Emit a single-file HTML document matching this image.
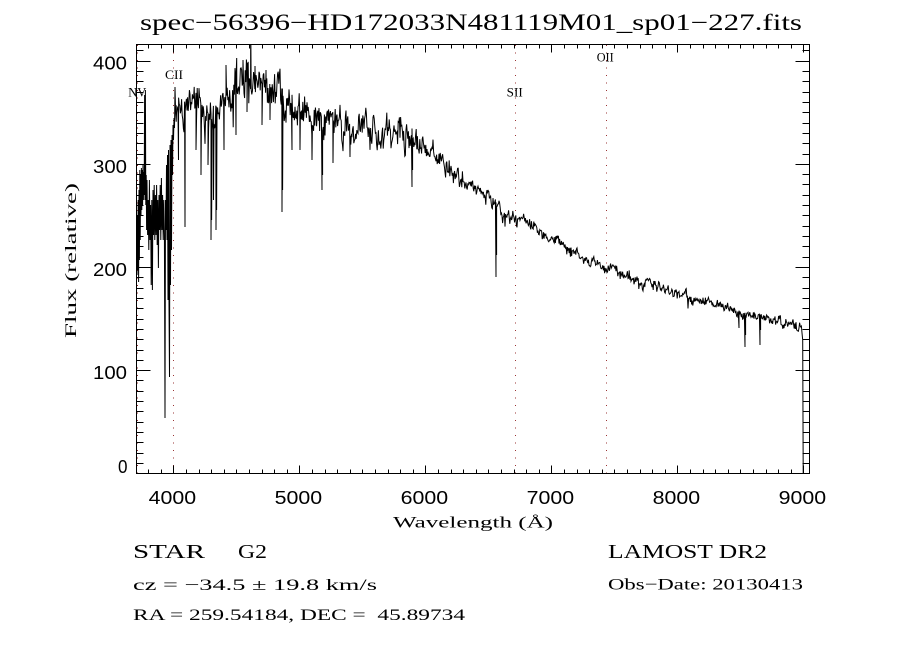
<!DOCTYPE html>
<html><head><meta charset="utf-8"><style>
html,body{margin:0;padding:0;background:#fff;}
svg{display:block;}
text{fill:#000;}
.serif{font-family:"Liberation Serif",serif;}
.sans{font-family:"Liberation Sans",sans-serif;}
</style></head><body>
<svg id="s" width="900" height="650" viewBox="0 0 900 650" xmlns="http://www.w3.org/2000/svg">
<rect width="900" height="650" fill="#fff"/>
<defs><clipPath id="c"><rect x="136" y="44" width="674" height="430"/></clipPath></defs>
<g stroke="#993333" stroke-width="1" stroke-dasharray="1 6.5">
<line x1="137.5" y1="45" x2="137.5" y2="473"/>
<line x1="173.5" y1="45" x2="173.5" y2="473"/>
<line x1="515.5" y1="45" x2="515.5" y2="473"/>
<line x1="606.5" y1="45" x2="606.5" y2="473"/>
</g>
<path id="spec" clip-path="url(#c)" fill="none" stroke="#000" stroke-width="1"/>
<g id="ticks" stroke="#000" stroke-width="1" shape-rendering="crispEdges"></g>
<rect x="136.5" y="44.5" width="673" height="429" fill="none" stroke="#000" stroke-width="1" shape-rendering="crispEdges"/>

<text class="serif" x="140" y="30" font-size="23" textLength="662" lengthAdjust="spacingAndGlyphs">spec−56396−HD172033N481119M01_sp01−227.fits</text>

<text class="serif" x="128.3" y="96.7" font-size="12.5" textLength="18" lengthAdjust="spacingAndGlyphs">NV</text>
<text class="serif" x="165" y="79" font-size="12.5" textLength="18" lengthAdjust="spacingAndGlyphs">CII</text>
<text class="serif" x="506.7" y="96.7" font-size="12.5" textLength="16" lengthAdjust="spacingAndGlyphs">SII</text>
<text class="serif" x="596.7" y="61.7" font-size="12.5" textLength="17" lengthAdjust="spacingAndGlyphs">OII</text>

<g class="sans" font-size="18.5">
<text x="93" y="69.6" textLength="34" lengthAdjust="spacingAndGlyphs">400</text>
<text x="93" y="172.9" textLength="34" lengthAdjust="spacingAndGlyphs">300</text>
<text x="93" y="276" textLength="34" lengthAdjust="spacingAndGlyphs">200</text>
<text x="93" y="379" textLength="34" lengthAdjust="spacingAndGlyphs">100</text>
<text x="118" y="473" textLength="9.5" lengthAdjust="spacingAndGlyphs">0</text>
<text x="148.7" y="504" textLength="47.5" lengthAdjust="spacingAndGlyphs">4000</text>
<text x="274.7" y="504" textLength="47.5" lengthAdjust="spacingAndGlyphs">5000</text>
<text x="400.7" y="504" textLength="47.5" lengthAdjust="spacingAndGlyphs">6000</text>
<text x="526.7" y="504" textLength="47.5" lengthAdjust="spacingAndGlyphs">7000</text>
<text x="652.7" y="504" textLength="47.5" lengthAdjust="spacingAndGlyphs">8000</text>
<text x="778.7" y="504" textLength="47.5" lengthAdjust="spacingAndGlyphs">9000</text>
</g>

<text class="serif" x="393" y="527.5" font-size="16" textLength="160" lengthAdjust="spacingAndGlyphs">Wavelength (Å)</text>
<text class="serif" transform="translate(76,338) rotate(-90)" x="0" y="0" font-size="16" textLength="155" lengthAdjust="spacingAndGlyphs">Flux (relative)</text>

<text class="serif" x="133" y="558" font-size="20" textLength="72" lengthAdjust="spacingAndGlyphs">STAR</text>
<text class="serif" x="238" y="558" font-size="20" textLength="29" lengthAdjust="spacingAndGlyphs">G2</text>
<text class="serif" x="608" y="558" font-size="20" textLength="159" lengthAdjust="spacingAndGlyphs">LAMOST DR2</text>
<text class="serif" x="133" y="590" font-size="16" textLength="244" lengthAdjust="spacingAndGlyphs">cz = −34.5 ± 19.8 km/s</text>
<text class="serif" x="608" y="589.5" font-size="16" textLength="195" lengthAdjust="spacingAndGlyphs">Obs−Date: 20130413</text>
<text class="serif" x="133" y="620" font-size="16" textLength="332" lengthAdjust="spacingAndGlyphs" style="white-space:pre">RA = 259.54184, DEC =  45.89734</text>
</svg>
<script>
(function(){
const NS="http://www.w3.org/2000/svg";
function mulberry32(a){return function(){a|=0;a=a+0x6D2B79F5|0;let t=Math.imul(a^a>>>15,1|a);t=t+Math.imul(t^t>>>7,61|t)^t;return((t^t>>>14)>>>0)/4294967296;}}
const R=mulberry32(11);
const g=document.getElementById('ticks');
function ln(x1,y1,x2,y2){const l=document.createElementNS(NS,'line');l.setAttribute('x1',x1);l.setAttribute('y1',y1);l.setAttribute('x2',x2);l.setAttribute('y2',y2);g.appendChild(l);}
for(let w=3800;w<=9000;w+=100){const x=Math.round(173.3+(w-4000)*0.126)+0.5;const L=(w%1000===0)?8:4;ln(x,473.5,x,473.5-L);ln(x,44.5,x,44.5+L);}
for(let f=10;f<=410;f+=10){const y=Math.round(473.3-1.0315*f)+0.5;const L=(f%100===0)?14:7;ln(136.5,y,136.5+L,y);ln(809.5,y,809.5-L,y);}

const hand=[[136.6,230],[137,275],[137.4,215],[137.8,270],[138.2,200],[138.6,282],[139,190],[139.4,260],[139.8,170],[140.2,240],[140.6,175],[141,215],[141.4,168],[141.8,210],[142.2,170],[142.6,205],[143,165],[143.4,200],[143.8,172],[144.2,195],[144.6,95],[145,200],[145.4,90],[145.8,205],[146.2,175],[146.6,230],[147,180],[147.6,235],[148.2,200],[148.8,250],[149.4,180],[150,240],[150.6,205],[151.2,285],[151.8,200],[152.4,290],[153,190],[153.6,235],[154.2,185],[154.8,240],[155.4,195],[156,235],[156.6,185],[157.2,245],[157.8,200],[158.4,268],[159,195],[159.6,230],[160.2,185],[160.8,240],[161.4,178],[162,230],[162.6,195],[163.2,240],[163.8,200],[164.4,235],[165,418],[165.5,200],[166,230],[166.5,165],[167,240],[167.5,155],[168,300],[168.5,150],[169,305],[169.5,377],[170,145],[170.5,285],[171,140],[171.5,250],[172,135],[172.5,175],[173,125],[173.5,140],[174,118],[174.5,128],[175,87]];
const anchors=[[175,110],[180,118],[190,105],[200,100],[205,128],[210,128],[217,120],[222,105],[230,90],[240,82],[250,82],[260,88],[270,88],[278,95],[285,107],[300,112],[320,118],[330,125],[350,125],[370,127],[390,130],[405,135],[410,138],[420,147],[430,153],[440,160],[450,168],[460,178],[470,185],[480,192],[490,198],[495,203],[500,210],[520,221],[540,232],[560,243],[580,255],[600,266],[620,273],[640,280],[660,287],[680,294],[700,301],[720,307],[740,315],[760,316],[770,318],[785,323],[800,328],[803,332]];
const lines=[[178.5,160],[185,227],[196,150],[201,175],[208,165],[211,240],[211.6,220],[213.5,200],[216,230],[216.6,210],[224,150],[236,135],[247,112],[262,125],[270,120],[282,212],[282.6,190],[292,150],[300,150],[312,160],[322,190],[322.6,175],[333,163],[350,157],[412,187],[412.6,170],[496,277],[496.6,255],[739,328],[745,347],[745.6,335],[760,345],[760.6,330],
[250.7,20],[236.7,58],[226,65],[243,60],[255,66],[266,70]];
function base(x){for(let i=0;i<anchors.length-1;i++){const a=anchors[i],b=anchors[i+1];if(x>=a[0]&&x<=b[0]){return a[1]+(b[1]-a[1])*(x-a[0])/(b[0]-a[0]);}}return anchors[anchors.length-1][1];}
function amp(x){if(x<300)return 17;if(x<410)return 16;if(x<460)return 10;if(x<520)return 7;if(x<620)return 5.5;return 5;}
let pts=[];
let c=0;
for(let x=175.6;x<802.2;x+=0.6){
 const a=amp(x);
 c=0.7*c+(R()*2-1)*a*0.6;
 let y=base(x)+c+(R()*2-1)*a*0.65;
 const r=R();
 if(x<300){if(r<0.05)y+=R()*35;else if(r<0.09)y-=R()*18;}
 else if(x<410){if(r<0.05)y+=R()*25;else if(r<0.08)y-=R()*12;}
 else if(x<520){if(r<0.04)y+=R()*12;}
 else{if(r<0.03)y+=R()*7;}
 pts.push([x,y]);
}
lines.forEach(p=>pts.push(p));
pts.sort((a,b)=>a[0]-b[0]);
pts=hand.concat(pts);
pts.push([802.7,340],[803.2,473.3]);
document.getElementById('spec').setAttribute('d',"M"+pts.map(p=>p[0].toFixed(2)+","+p[1].toFixed(2)).join("L"));
})();
</script>
</body></html>
